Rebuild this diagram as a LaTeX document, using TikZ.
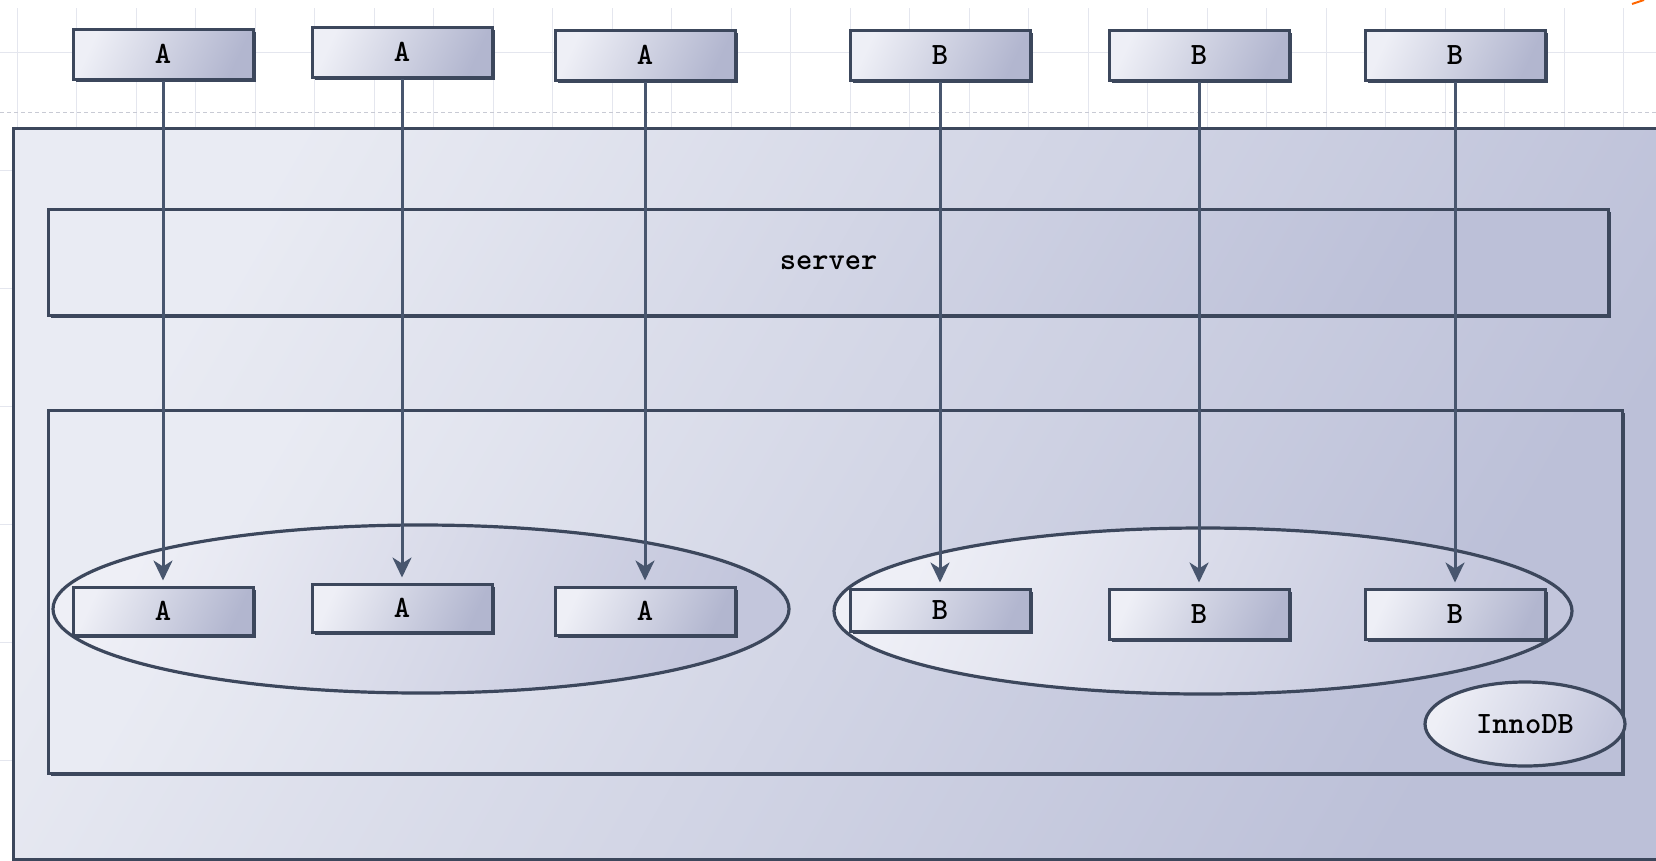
\documentclass[tikz,border=0pt]{standalone}
\usepackage{fontspec}
\usetikzlibrary{arrows.meta,shapes.geometric,shadows}
\definecolor{edge}{HTML}{3C475C}
\definecolor{arrowc}{HTML}{48566E}
\definecolor{gridc}{HTML}{E4E6EE}
\definecolor{gridd}{HTML}{C8CAD4}
\definecolor{outerL}{HTML}{E9EBF3}
\definecolor{outerR}{HTML}{BCC0D8}
\definecolor{boxL}{HTML}{EEEFF6}
\definecolor{boxR}{HTML}{B2B6CF}
\definecolor{ellL}{HTML}{EEEFF6}
\definecolor{ellR}{HTML}{C3C6DC}
\tikzset{
  lbl/.style={font=\ttfamily\bfseries\fontsize{31}{33}\selectfont},
  frame/.style={draw=edge, line width=3.2pt, left color=outerL, right color=outerR, shading angle=60,
    drop shadow={shadow xshift=2pt, shadow yshift=-2pt, fill=edge, opacity=1}},
  msg/.style={rectangle, draw=edge, line width=3pt, inner sep=0pt, minimum width=180pt,
    left color=boxL, right color=boxR, shading angle=65,
    drop shadow={shadow xshift=3pt, shadow yshift=-3pt, fill=edge, opacity=1}, lbl},
  group/.style={ellipse, draw=edge, line width=3.2pt, inner sep=0pt,
    left color=ellL, right color=ellR, shading angle=65},
  flow/.style={draw=arrowc, line width=3pt, -{Stealth[length=20pt,width=19pt,inset=6pt]}}
}
\begin{document}
\begin{tikzpicture}[x=1pt,y=-1pt]
\useasboundingbox (0,0) rectangle (1656,860);
\fill[white] (0,0) rectangle (1656,860);
% background grid
\foreach \gx in {17,76.5,...,1656} \draw[gridc, line width=0.8pt] (\gx,8) -- (\gx,860);
\foreach \gy in {52,170,...,860} \draw[gridc, line width=0.8pt] (0,\gy) -- (1656,\gy);
\draw[gridd, line width=1pt, dash pattern=on 4pt off 3pt] (0,112) -- (1656,112);
\draw[orange!80!red, line width=2pt] (1632,4) -- (1644,0);
% containers
\node[frame, rectangle, inner sep=0pt, minimum width=1650pt, minimum height=731pt, anchor=north west] (outer) at (12,127) {};
\node[frame, rectangle, inner sep=0pt, minimum width=1560pt, minimum height=106pt, anchor=north west, lbl] (server) at (47,208) {server};
\node[frame, rectangle, inner sep=0pt, minimum width=1574pt, minimum height=363pt, anchor=north west] (inno) at (47,409) {};
% groups
\node[group, minimum width=736pt, minimum height=168pt] (ga) at (421,609) {};
\node[group, minimum width=738pt, minimum height=166pt] (gb) at (1203,611) {};
% bottom boxes
\node[msg, minimum height=48pt] (b1) at (163,611) {A};
\node[msg, minimum height=48pt] (b2) at (402,608) {A};
\node[msg, minimum height=48pt] (b3) at (645,611) {A};
\node[msg, minimum height=42pt] (b4) at (940,610) {B};
\node[msg, minimum height=50pt] (b5) at (1199,614) {B};
\node[msg, minimum height=50pt] (b6) at (1455,614) {B};
% InnoDB
\node[group, minimum width=200pt, minimum height=84pt, lbl] (innodb) at (1525,724) {InnoDB};
% top boxes
\node[msg, minimum height=50pt] (t1) at (163,54) {A};
\node[msg, minimum height=50pt] (t2) at (402,52) {A};
\node[msg, minimum height=50pt] (t3) at (645,55) {A};
\node[msg, minimum height=50pt] (t4) at (940,55) {B};
\node[msg, minimum height=50pt] (t5) at (1199,55) {B};
\node[msg, minimum height=50pt] (t6) at (1455,55) {B};
% connectors
\foreach \i in {1,...,6} \draw[flow, shorten >=5pt] (t\i.south) -- (b\i.north);
\end{tikzpicture}
\end{document}
